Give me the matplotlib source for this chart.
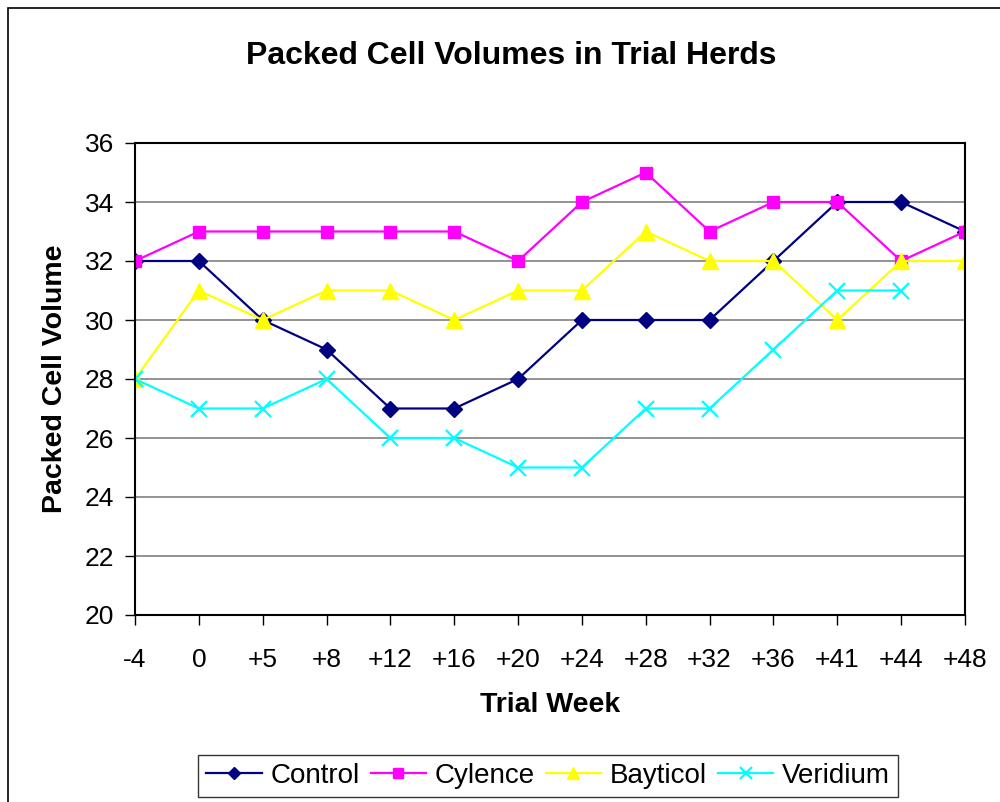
import matplotlib
matplotlib.use("Agg")
import matplotlib.pyplot as plt
import numpy as np
from matplotlib.patches import Rectangle

plt.rcParams['font.family'] = ['Liberation Sans', 'DejaVu Sans']

weeks = ["-4", "0", "+5", "+8", "+12", "+16", "+20", "+24", "+28", "+32", "+36", "+41", "+44", "+48"]
control = [32, 32, 30, 29, 27, 27, 28, 30, 30, 30, 32, 34, 34, 33]
cylence = [32, 33, 33, 33, 33, 33, 32, 34, 35, 33, 34, 34, 32, 33]
bayticol = [28, 31, 30, 31, 31, 30, 31, 31, 33, 32, 32, 30, 32, 32]
veridium = [28, 27, 27, 28, 26, 26, 25, 25, 27, 27, 29, 31, 31, np.nan]

fig = plt.figure(figsize=(10, 8.02), dpi=100)
fig.patches.append(Rectangle((8/1000, -0.1), 1.2, 1 - 8/802 + 0.1, transform=fig.transFigure,
                             fill=False, edgecolor='black', linewidth=1.2))
ax = fig.add_axes([135/1000, 1 - 615/802, 830/1000, 472/802])

x = np.arange(len(weeks))
ax.plot(x, control, color='#000080', marker='D', markersize=8, linewidth=1.6, label='Control')
ax.plot(x, cylence, color='#FF00FF', marker='s', markersize=9, linewidth=1.6, label='Cylence')
ax.plot(x, bayticol, color='#FFFF00', marker='^', markersize=11, linewidth=1.6, label='Bayticol')
ax.plot(x, veridium, color='#00FFFF', marker='x', markersize=11, markeredgewidth=1.6, linewidth=1.6, label='Veridium')

ax.set_xlim(0, len(weeks) - 1)
ax.set_ylim(20, 36)
ax.set_yticks(np.arange(20, 37, 2))
ax.set_xticks(x)
ax.set_xticklabels(weeks)
ax.tick_params(axis='both', labelsize=19, direction='out', length=7, width=1)
ax.tick_params(axis='y', pad=8)
ax.tick_params(axis='x', pad=17)
ax.grid(axis='y', color='#808080', linewidth=1.2)
ax.set_axisbelow(True)
for s in ax.spines.values():
    s.set_color('black')
    s.set_linewidth(1.5)

fig.text(511/1000, 1 - 56/802, "Packed Cell Volumes in Trial Herds", fontsize=23, fontweight='bold',
         ha='center', va='center')
ax.set_xlabel("Trial Week", fontsize=20.5, fontweight='bold', labelpad=14)
ax.set_ylabel("Packed Cell Volume", fontsize=20.5, fontweight='bold', labelpad=12)

leg = ax.legend(loc='center', bbox_to_anchor=(548/1000, 1 - 776/802), bbox_transform=fig.transFigure,
                ncol=4, fontsize=20, frameon=True, fancybox=False, edgecolor='black',
                handlelength=2.0, handletextpad=0.3, columnspacing=0.4, borderpad=0.3, markerscale=0.8)
leg.get_frame().set_linewidth(1.0)

fig.savefig("out.png", dpi=100)
